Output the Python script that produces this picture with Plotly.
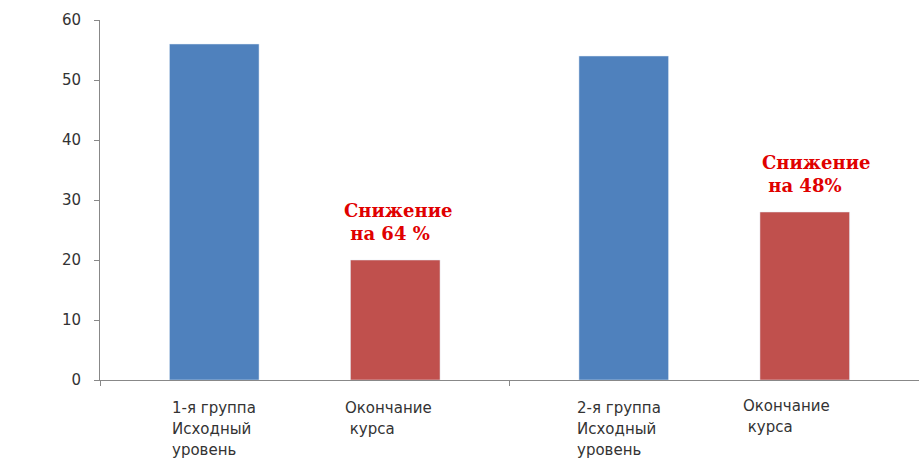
import plotly.graph_objects as go

groups = ["g1", "g2"]
baseline = [56, 54]
end_course = [20, 28]
yticks = [0, 10, 20, 30, 40, 50, 60]
bar_labels = [
    ["1-я группа", "Исходный", "уровень"],
    ["Окончание", " курса"],
    ["2-я группа", "Исходный", "уровень"],
    ["Окончание", " курса"],
]
notes = ["Снижение<br> на 64 %", "Снижение<br> на 48%"]

fig = go.Figure()
fig.add_trace(go.Bar(x=groups, y=baseline, marker_color="#4f81bd", name="Исходный уровень"))
fig.add_trace(go.Bar(x=groups, y=end_course, marker_color="#c0504d", name="Окончание курса"))

W, H = 919, 458
L, R, T, B = 100, 0, 20, 78
pw = W - L - R
ph = H - T - B
label_pos = [(170, 408), (343, 408), (575, 408), (741, 406)]
for lines, (px, py) in zip(bar_labels, label_pos):
    for i, ln in enumerate(lines):
        fig.add_annotation(
            x=(px - L) / pw, y=1 - (py + i * 21 - T) / ph, xref="paper", yref="paper",
            text=ln.replace(" ", "&nbsp;") if ln.startswith(" ") else ln,
            showarrow=False, xanchor="left", yanchor="middle",
            font=dict(family="DejaVu Sans, Verdana", size=15, color="#333333"),
        )

for i, (g, v, t) in enumerate(zip(groups, end_course, notes)):
    fig.add_annotation(
        x=g, y=v, xref="x", yref="y", text="<b>" + t.replace("<br> ", "<br>&nbsp;") + "</b>",
        showarrow=False, xanchor="left", yanchor="bottom", align="left",
        xshift=[37, 46][i], yshift=[14, 14][i],
        font=dict(family="DejaVu Serif, Times New Roman", size=18, color="#e00000"),
    )

fig.update_layout(
    width=W, height=H,
    margin=dict(l=L, r=R, t=T, b=B),
    paper_bgcolor="white", plot_bgcolor="white",
    showlegend=False,
    barmode="group", bargap=0.116, bargroupgap=0.505,
    xaxis=dict(showticklabels=False, tickson="boundaries", ticks="outside", ticklen=5,
               tickcolor="#888888", showline=True, linecolor="#888888", linewidth=1,
               showgrid=False),
    yaxis=dict(range=[0, 60], tickvals=yticks, ticks="outside", ticklen=5,
               tickcolor="#888888", showline=True, linecolor="#888888", linewidth=1,
               showgrid=False, zeroline=False, ticklabelstandoff=10,
               tickfont=dict(family="DejaVu Sans, Verdana", size=15, color="#333333")),
)

fig.write_html("out.html")
